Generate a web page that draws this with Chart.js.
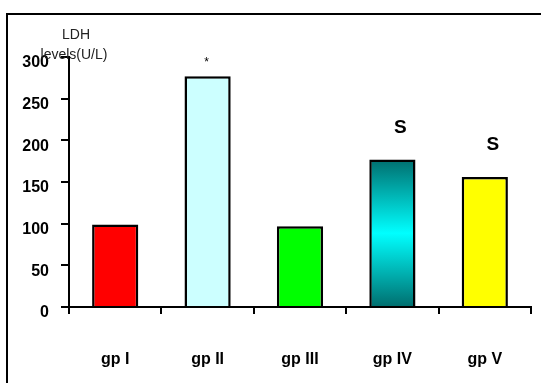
<!DOCTYPE html>
<html>
<head>
<meta charset="utf-8">
<script src="https://cdn.jsdelivr.net/npm/chart.js@4/dist/chart.umd.min.js"></script>
<style>
  html, body { margin: 0; padding: 0; background: #fff; overflow: hidden; }
  #wrap { position: relative; width: 541px; height: 383px; }
  #frame { position: absolute; left: 6px; top: 13px; width: 700px; height: 500px; border: 2px solid #000; }
  #chart { position: absolute; left: 0; top: 0; }
</style>
</head>
<body>
<div id="wrap">
  <div id="frame"></div>
  <canvas id="chart" width="541" height="383"></canvas>
</div>
<script>
// values
var groups = ["gp I", "gp II", "gp III", "gp IV", "gp V"];
var ldhLevels = [99, 277, 97, 177, 156];
var marks = ["", "*", "", "S", "S"];
var yMin = 0, yMax = 300, yStep = 50;

var barColors = ["#ff0000", "#ccffff", "#00ff00", "gradient", "#ffff00"];
var FONT = "'Liberation Sans', Arial, sans-serif";

var fillFor = (ctx) => {
    var c = barColors[ctx.dataIndex];
    if (c !== "gradient") return c;
    var chart = ctx.chart;
    if (!chart.chartArea) return "#00cccc";
    var top = chart.scales.y.getPixelForValue(ldhLevels[ctx.dataIndex]);
    var bottom = chart.scales.y.getPixelForValue(0);
    var g = chart.ctx.createLinearGradient(0, top, 0, bottom);
    g.addColorStop(0, "#006e6e");
    g.addColorStop(0.5, "#00ffff");
    g.addColorStop(1, "#006e6e");
    return g;
};

var labelsPlugin = {
    id: "labelsPlugin",
    afterDatasetsDraw: (chart) => {
        var ctx = chart.ctx;
        var bars = chart.getDatasetMeta(0).data;
        ctx.save();
        ctx.fillStyle = "#000";
        ctx.textAlign = "center";
        ctx.textBaseline = "middle";
        for (var i = 0; i < bars.length; i++) {
            if (!marks[i]) continue;
            if (marks[i] === "*") {
                ctx.font = "12px " + FONT;
                ctx.fillText(marks[i], bars[i].x - 1, bars[i].y - 13);
            } else {
                ctx.font = "bold 19px " + FONT;
                ctx.fillText(marks[i], bars[i].x + 8, bars[i].y - 32);
            }
        }
        // axis caption
        var x = chart.scales.y.right + 5;
        var top = chart.chartArea.top;
        ctx.font = "14px " + FONT;
        ctx.fillStyle = "#222";
        ctx.fillText("LDH", x + 2, top - 22);
        ctx.fillText("levels(U/L)", x, top - 2);
        ctx.restore();
    }
};

var chart = new Chart(document.getElementById("chart").getContext("2d"), {
    type: "bar",
    data: {
        labels: groups,
        datasets: [{
            data: ldhLevels,
            backgroundColor: fillFor,
            borderColor: "#000",
            borderWidth: 2.5,
            borderSkipped: "bottom",
            barPercentage: 0.5,
            categoryPercentage: 1
        }]
    },
    options: {
        responsive: false,
        animation: false,
        layout: { padding: { left: 0, top: 57, right: 10, bottom: 0 } },
        plugins: { legend: { display: false }, tooltip: { enabled: false } },
        scales: {
            x: {
                grid: { drawOnChartArea: false, offset: true, tickLength: 7, tickColor: "#000", lineWidth: 2 },
                border: { color: "#000", width: 2 },
                ticks: { color: "#000", padding: 36, font: { family: FONT, size: 16, weight: "bold" } },
                afterFit: (s) => { s.height = 76; }
            },
            y: {
                min: yMin,
                max: yMax,
                grid: { drawOnChartArea: false, tickLength: 8, tickColor: "#000", lineWidth: 2 },
                border: { color: "#000", width: 2 },
                ticks: { stepSize: yStep, color: "#000", padding: 12, labelOffset: 6, font: { family: FONT, size: 16, weight: "bold" } },
                afterFit: (s) => { s.width = 69; }
            }
        }
    },
    plugins: [labelsPlugin]
});
</script>
</body>
</html>
